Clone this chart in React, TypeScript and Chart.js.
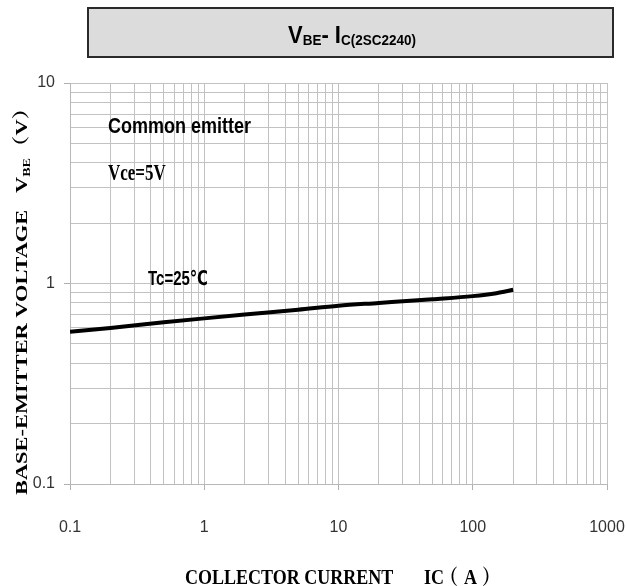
import React, { useEffect, useRef } from 'react';
import { Chart, registerables } from 'chart.js';

Chart.register(...registerables);

// ---- data ----
const collectorCurrentA = [0.1, 0.2, 0.5, 1, 2, 5, 10, 20, 50, 100, 150, 200];
const baseEmitterVoltageV = [0.575, 0.6, 0.64, 0.67, 0.7, 0.74, 0.775, 0.8, 0.835, 0.865, 0.895, 0.93];

const xGridValues = [
  0.1, 0.2, 0.3, 0.4, 0.5, 0.6, 0.7, 0.8, 0.9,
  1, 2, 3, 4, 5, 6, 7, 8, 9,
  10, 20, 30, 40, 50, 60, 70, 80, 90,
  100, 200, 300, 400, 500, 600, 700, 800, 900,
  1000,
];
const yGridValues = [
  0.1, 0.2, 0.3, 0.4, 0.5, 0.6, 0.7, 0.8, 0.9,
  1, 2, 3, 4, 5, 6, 7, 8, 9,
  10,
];
const xTickLabels = ['0.1', '1', '10', '100', '1000'];
const yTickLabels = ['0.1', '1', '10'];

const annotationCommon = 'Common emitter';
const annotationVce = 'Vce=5V';
const annotationTc = 'Tc=25℃';

type Run = { text: string; font: string; dy?: number };

function findLabel(labels: string[], v: number): string {
  const hit = labels.find((l) => Math.abs(Number(l) - v) < 1e-9 * Math.max(1, v));
  return hit ?? '';
}

function runsWidth(ctx: CanvasRenderingContext2D, runs: Run[]): number {
  let w = 0;
  for (const r of runs) {
    ctx.font = r.font;
    w += ctx.measureText(r.text).width;
  }
  return w;
}

function drawRuns(ctx: CanvasRenderingContext2D, runs: Run[], startX: number) {
  let x = startX;
  for (const r of runs) {
    ctx.font = r.font;
    ctx.fillText(r.text, x, r.dy ?? 0);
    x += ctx.measureText(r.text).width;
  }
}

const SERIF = "'Liberation Serif', 'Noto Serif CJK SC', 'Noto Sans CJK SC', serif";
const SANS = "'Liberation Sans', Arial, 'DejaVu Sans', sans-serif";

const decorPlugin = {
  id: 'decor',
  afterDraw(chart: any) {
    const ctx: CanvasRenderingContext2D = chart.ctx;
    ctx.save();
    ctx.textBaseline = 'alphabetic';
    ctx.textAlign = 'left';

    // Title box
    ctx.fillStyle = '#dcdcdc';
    ctx.fillRect(88, 8, 525, 49);
    ctx.strokeStyle = '#2a2a2a';
    ctx.lineWidth = 2;
    ctx.strokeRect(88, 8, 525, 49);

    ctx.fillStyle = '#000';
    const titleRuns: Run[] = [
      { text: 'V', font: `bold 22px ${SANS}` },
      { text: 'BE', font: `bold 13.5px ${SANS}`, dy: 2 },
      { text: '- I', font: `bold 22px ${SANS}` },
      { text: 'C(2SC2240)', font: `bold 13.5px ${SANS}`, dy: 2 },
    ];
    const tw = runsWidth(ctx, titleRuns);
    ctx.save();
    ctx.translate(352 - tw / 2, 43);
    ctx.scale(1, 1.1);
    drawRuns(ctx, titleRuns, 0);
    ctx.restore();

    // Annotations inside plot (stretched vertically like the source)
    ctx.save();
    ctx.translate(108, 133);
    ctx.scale(1, 1.22);
    ctx.font = `bold 18px ${SANS}`;
    ctx.fillText(annotationCommon, 0, 0);
    ctx.restore();

    ctx.save();
    ctx.translate(108, 180);
    ctx.scale(1, 1.3);
    ctx.font = `bold 17px ${SERIF}`;
    ctx.fillText(annotationVce, 0, 0);
    ctx.restore();

    ctx.save();
    ctx.translate(148, 285);
    ctx.scale(1, 1.35);
    ctx.font = `bold 15px ${SANS}`;
    ctx.fillText(annotationTc, 0, 0);
    ctx.restore();

    // X axis title
    ctx.save();
    ctx.translate(0, 584);
    ctx.scale(1, 1.15);
    ctx.font = `bold 18px ${SERIF}`;
    ctx.fillText('COLLECTOR CURRENT', 185, 0);
    ctx.fillText('IC', 424, 0);
    ctx.fillText('（', 440, 0);
    ctx.fillText('A', 464, 0);
    ctx.fillText('）', 482, 0);
    ctx.restore();

    // Y axis title (rotated)
    const yRuns: Run[] = [
      { text: 'BASE-EMITTER VOLTAGE   V', font: `bold 17.5px ${SERIF}` },
      { text: 'BE', font: `bold 11px ${SERIF}`, dy: 3 },
      { text: '（V）', font: `bold 17.5px ${SERIF}` },
    ];
    ctx.save();
    ctx.translate(27, 495);
    ctx.rotate(-Math.PI / 2);
    ctx.scale(1.28, 1);
    drawRuns(ctx, yRuns, 0);
    ctx.restore();

    ctx.restore();
  },
};

export default function App() {
  const canvasRef = useRef<HTMLCanvasElement | null>(null);

  useEffect(() => {
    document.body.style.margin = '0';
    const canvas = canvasRef.current;
    if (!canvas) return;

    const gridColor = '#c2c2c2';
    const chart = new Chart(canvas, {
      type: 'line',
      data: {
        datasets: [
          {
            data: collectorCurrentA.map((x, i) => ({ x, y: baseEmitterVoltageV[i] })),
            borderColor: '#000',
            borderWidth: 4,
            pointRadius: 0,
            fill: false,
            cubicInterpolationMode: 'monotone',
          },
        ],
      },
      options: {
        animation: false,
        responsive: false,
        devicePixelRatio: 1,
        layout: { padding: { left: 0, right: 20, top: 83, bottom: 0 } },
        plugins: {
          legend: { display: false },
          title: { display: false },
          tooltip: { enabled: false },
        },
        scales: {
          x: {
            type: 'logarithmic',
            min: 0.1,
            max: 1000,
            afterBuildTicks: (scale: any) => {
              scale.ticks = xGridValues.map((v) => ({ value: v }));
            },
            afterFit: (scale: any) => {
              scale.height = 102;
              scale.paddingLeft = 0;
              scale.paddingRight = 0;
            },
            ticks: {
              autoSkip: false,
              maxRotation: 0,
              minRotation: 0,
              padding: 28,
              color: '#333',
              font: { family: SANS, size: 16 },
              callback: (v: any) => findLabel(xTickLabels, Number(v)),
            },
            grid: {
              color: gridColor,
              lineWidth: 1,
              tickLength: 6,
              tickColor: (c: any) =>
                findLabel(xTickLabels, Number(c.tick?.value)) ? '#b0b0b0' : 'rgba(0,0,0,0)',
            },
            border: { display: true, color: '#b8b8b8', width: 1 },
          },
          y: {
            type: 'logarithmic',
            min: 0.1,
            max: 10,
            afterBuildTicks: (scale: any) => {
              scale.ticks = yGridValues.map((v) => ({ value: v }));
            },
            afterFit: (scale: any) => {
              scale.width = 70;
              scale.paddingTop = 0;
              scale.paddingBottom = 0;
            },
            ticks: {
              autoSkip: false,
              padding: 9,
              color: '#333',
              font: { family: SANS, size: 16 },
              callback: (v: any) => findLabel(yTickLabels, Number(v)),
            },
            grid: {
              color: gridColor,
              lineWidth: 1,
              tickLength: 6,
              tickColor: (c: any) =>
                findLabel(yTickLabels, Number(c.tick?.value)) ? '#b0b0b0' : 'rgba(0,0,0,0)',
            },
            border: { display: true, color: '#b8b8b8', width: 1 },
          },
        },
      } as any,
      plugins: [decorPlugin],
    });

    return () => {
      chart.destroy();
    };
  }, []);

  return (
    <div style={{ width: 627, height: 586, background: '#fff' }}>
      <canvas ref={canvasRef} width={627} height={586} style={{ display: 'block' }} />
    </div>
  );
}
